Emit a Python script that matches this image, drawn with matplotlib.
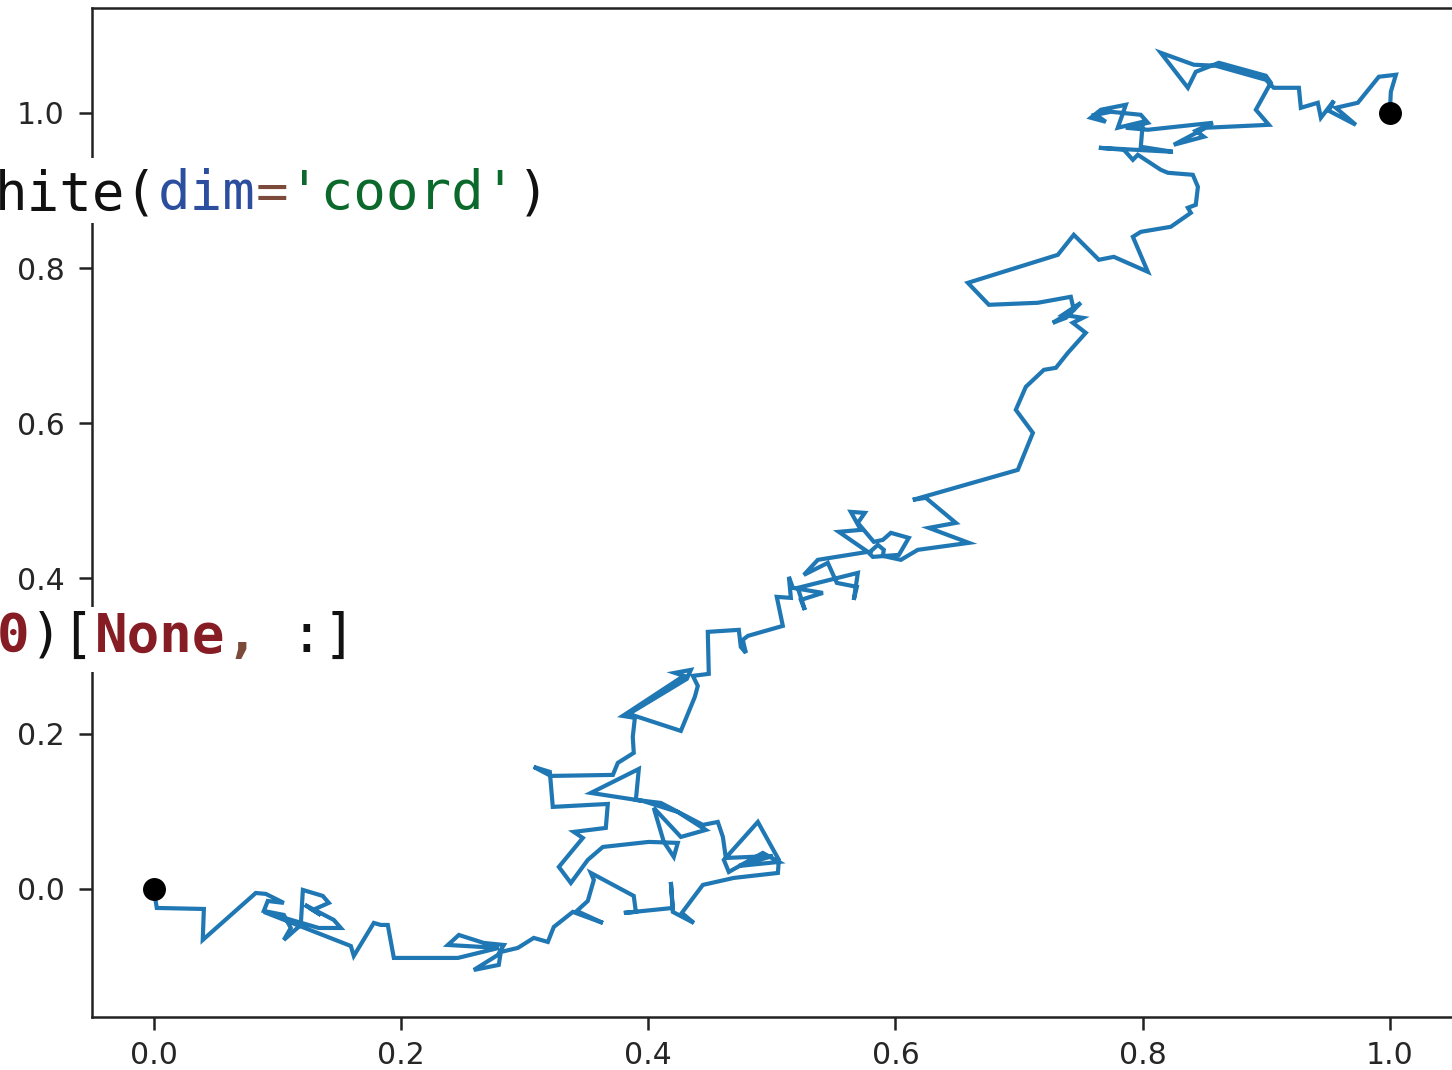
import matplotlib
matplotlib.use("Agg")
import matplotlib.pyplot as plt
from matplotlib.patches import Rectangle

# Brownian-bridge style walk from (0, 0) to (1, 1)
walk_x = [0.0, 0.0024, 0.0405, 0.0396,
          0.0825, 0.0906, 0.1052, 0.0922, 0.0890, 0.1052, 0.1108, 0.1052, 0.1189, 0.1206,
          0.1367, 0.1416, 0.1286, 0.1351, 0.1222, 0.1456, 0.1513, 0.1335, 0.0890, 0.1594,
          0.1618, 0.1780, 0.1837, 0.1893, 0.1942, 0.2460, 0.2791, 0.2379, 0.2468, 0.2670,
          0.2832, 0.2783, 0.2589, 0.2791, 0.2807, 0.2945,
          0.3074, 0.3188,
          0.3236, 0.3390, 0.3633, 0.3422, 0.3511, 0.3560, 0.3536, 0.3883, 0.3900, 0.3803,
          0.4199, 0.4183, 0.4199, 0.4369, 0.4272, 0.4442, 0.4693, 0.5049, 0.5057, 0.4887,
          0.4612, 0.4652, 0.4927, 0.5057, 0.4733, 0.5008, 0.4628, 0.4604, 0.4563, 0.4442,
          0.4102, 0.3900, 0.3924, 0.3536, 0.3956, 0.4239, 0.4466, 0.4264, 0.4045, 0.4126,
          0.4207, 0.4239, 0.4005, 0.3633, 0.3511, 0.3374, 0.3277, 0.3471, 0.3398, 0.3657,
          0.3673, 0.3228, 0.3204, 0.3074, 0.3212, 0.3714, 0.3754, 0.3883, 0.3875, 0.3892,
          0.3794, 0.4288, 0.4215, 0.4345, 0.4312, 0.3843, 0.4264, 0.4377, 0.4401, 0.4361,
          0.4490, 0.4482, 0.4733, 0.4749, 0.4790, 0.4765, 0.4806, 0.5089, 0.5040, 0.5154,
          0.5138, 0.5170, 0.5413, 0.5235, 0.5267, 0.5210, 0.5696, 0.5663, 0.5688, 0.5526,
          0.5453, 0.5259, 0.5372, 0.5777, 0.5542, 0.5720, 0.5639, 0.5752, 0.5696, 0.5777,
          0.5825, 0.5898, 0.5963, 0.6108, 0.6028, 0.5817, 0.5785, 0.5858, 0.5906, 0.5898,
          0.6044, 0.6181, 0.6594, 0.6270, 0.6489, 0.6246, 0.6141, 0.6990, 0.7112, 0.6974,
          0.7055, 0.7201, 0.7298, 0.7395, 0.7540, 0.7435, 0.7516, 0.7354, 0.7500, 0.7379,
          0.7273, 0.7443, 0.7419, 0.7152, 0.6756, 0.6586, 0.7314, 0.7443, 0.7646, 0.7767,
          0.8042, 0.7921, 0.7985, 0.8228, 0.8309, 0.8390, 0.8366, 0.8430, 0.8447, 0.8406,
          0.8204, 0.8147, 0.7961, 0.7921, 0.7848, 0.7646, 0.8244, 0.7985, 0.8002, 0.7799,
          0.7864, 0.7662, 0.7581, 0.7702, 0.7621, 0.7743, 0.7985, 0.8042, 0.7864, 0.8042,
          0.8568, 0.8430, 0.8495, 0.8252, 0.8511, 0.9021, 0.8916, 0.9037, 0.8997, 0.8617,
          0.8430, 0.8366, 0.8147, 0.8414, 0.8592, 0.8997, 0.9061, 0.9264, 0.9280, 0.9417,
          0.9442, 0.9547, 0.9506, 0.9725, 0.9563, 0.9741, 0.9911, 1.0049, 1.0008, 1.0]
walk_y = [0.0, -0.0245, -0.0258, -0.0657,
          -0.0052, -0.0064, -0.0180, -0.0155, -0.0284, -0.0335, -0.0503, -0.0657, -0.0464, -0.0013,
          -0.0090, -0.0180, -0.0271, -0.0335, -0.0206, -0.0399, -0.0503, -0.0503, -0.0296, -0.0735,
          -0.0863, -0.0438, -0.0464, -0.0464, -0.0889, -0.0889, -0.0760, -0.0722, -0.0593, -0.0696,
          -0.0722, -0.0851, -0.1044, -0.0979, -0.0812, -0.0760,
          -0.0631, -0.0683,
          -0.0490, -0.0296, -0.0438, -0.0284, -0.0155, 0.0116, 0.0206, -0.0090, -0.0296, -0.0309,
          -0.0245, 0.0090, -0.0296, -0.0438, -0.0309, 0.0052, 0.0142, 0.0206, 0.0374, 0.0863,
          0.0374, 0.0219, 0.0464, 0.0348, 0.0296, 0.0425, 0.0399, 0.0670, 0.0863, 0.0825,
          0.1108, 0.1147, 0.1546, 0.1237, 0.1134, 0.0992, 0.0760, 0.0670, 0.1044, 0.0606,
          0.0412, 0.0593, 0.0606, 0.0541, 0.0374, 0.0077, 0.0284, 0.0657, 0.0735, 0.0786,
          0.1095, 0.1057, 0.1508, 0.1572, 0.1456, 0.1469, 0.1624, 0.1753, 0.1959, 0.2204,
          0.2229, 0.2745, 0.2784, 0.2822, 0.2706, 0.2255, 0.2036, 0.2474, 0.2616, 0.2745,
          0.2771, 0.3312, 0.3338, 0.3119, 0.3041, 0.3209, 0.3260, 0.3389, 0.3763, 0.3750,
          0.4021, 0.3879, 0.3814, 0.3724, 0.3595, 0.3879, 0.4072, 0.3724, 0.3892, 0.3943,
          0.4201, 0.4046, 0.4240, 0.4343, 0.4601, 0.4626, 0.4858, 0.4845, 0.4716, 0.4562,
          0.4472, 0.4497, 0.4588, 0.4523, 0.4304, 0.4278, 0.4330, 0.4433, 0.4369, 0.4291,
          0.4240, 0.4369, 0.4459, 0.4652, 0.4716, 0.5039, 0.5013, 0.5399, 0.5876, 0.6173,
          0.6469, 0.6688, 0.6714, 0.6907, 0.7165, 0.7294, 0.7358, 0.7397, 0.7552, 0.7358,
          0.7294, 0.7461, 0.7629, 0.7552, 0.7526, 0.7809, 0.8170, 0.8428, 0.8106, 0.8144,
          0.7951, 0.8402, 0.8466, 0.8531, 0.8621, 0.8711, 0.8776, 0.8814, 0.9046, 0.9201,
          0.9227, 0.9265, 0.9459, 0.9394, 0.9523, 0.9549, 0.9497, 0.9562, 0.9884, 0.9807,
          1.0103, 1.0039, 0.9936, 0.9884, 0.9974, 1.0013, 0.9974, 0.9871, 0.9807, 0.9781,
          0.9871, 0.9768, 0.9691, 0.9588, 0.9807, 0.9845, 1.0039, 1.0387, 1.0477, 1.0644,
          1.0528, 1.0322, 1.0773, 1.0619, 1.0606, 1.0425, 1.0322, 1.0322, 1.0064, 1.0129,
          0.9936, 1.0155, 1.0026, 0.9845, 1.0064, 1.0129, 1.0464, 1.0490, 1.0271, 1.0]

endpoints_x = [0.0, 1.0]
endpoints_y = [0.0, 1.0]

x_ticks = [0.0, 0.2, 0.4, 0.6, 0.8, 1.0]
y_ticks = [0.0, 0.2, 0.4, 0.6, 0.8, 1.0]

# Code fragments from the neighbouring notebook cells: (text, colour, weight)
code_line_1 = [("hite(", "#111111", "normal"), ("dim", "#2b4f9e", "normal"),
               ("=", "#7b4a3a", "normal"), ("'coord'", "#0b6a2b", "normal"),
               (")", "#111111", "normal")]
code_line_2 = [("0", "#861c24", "bold"), (")[", "#111111", "normal"),
               ("None", "#861c24", "bold"), (",", "#7b4a3a", "bold"),
               (" :]", "#111111", "normal")]

W, H = 1452, 1070
fig = plt.figure(figsize=(W / 100, H / 100), dpi=100)
ax = fig.add_axes([92 / W, 53 / H, 1362 / W, 1009 / H])

ax.plot(walk_x, walk_y, color="#1f77b4", lw=3.0, solid_joinstyle="miter")
ax.plot(endpoints_x, endpoints_y, "o", color="black", ms=15.5, zorder=3)

ax.set_xlim(-0.05, 1.0519)
ax.set_ylim(-0.165, 1.135)
ax.set_xticks(x_ticks)
ax.set_yticks(y_ticks)
ax.set_xticklabels([f"{t:.1f}" for t in x_ticks])
ax.set_yticklabels([f"{t:.1f}" for t in y_ticks])
ax.tick_params(length=9.5, width=1.8, labelsize=21.5,
               labelcolor="#262626", color="#222222")
ax.tick_params(axis="x", pad=8)
ax.tick_params(axis="y", pad=10)
for sp in ax.spines.values():
    sp.set_linewidth(1.8)
    sp.set_color("#222222")

# Overlaid code rows with white backgrounds
pitch = 32.6          # monospace cell width in pixels
fsize = pitch / 0.602 * 72 / 100


def draw_code(tokens, left_px, baseline_px, top_px, bottom_px):
    n = sum(len(t) for t, _, _ in tokens)
    fig.patches.append(Rectangle((0, 1 - bottom_px / H), (left_px + n * pitch + 6) / W,
                                 (bottom_px - top_px) / H, transform=fig.transFigure,
                                 facecolor="white", edgecolor="none", zorder=5))
    idx = 0
    for text, col, weight in tokens:
        fig.text((left_px + idx * pitch) / W, 1 - baseline_px / H, text,
                 family="DejaVu Sans Mono", fontsize=fsize, color=col,
                 fontweight=weight, va="baseline", ha="left", zorder=6)
        idx += len(text)


draw_code(code_line_1, -5, 209, 158, 223)
draw_code(code_line_2, -3, 652, 607, 672)

fig.savefig("out.png", dpi=100)
